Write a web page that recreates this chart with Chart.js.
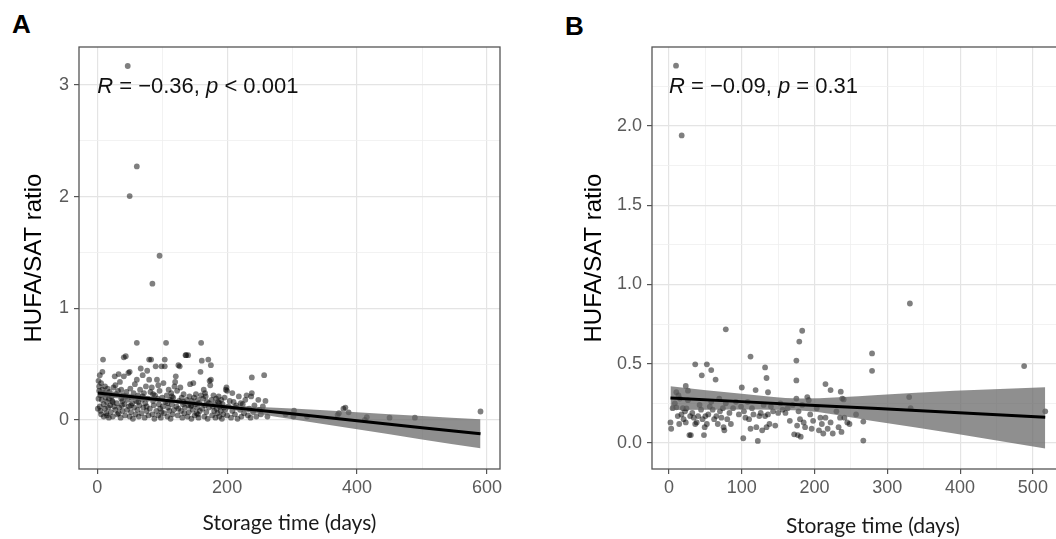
<!DOCTYPE html>
<html><head><meta charset="utf-8">
<script src="https://cdn.jsdelivr.net/npm/chart.js@4/dist/chart.umd.min.js"></script>
<style>
html,body{margin:0;padding:0;background:#fff;width:1056px;height:539px;overflow:hidden;position:relative}
.panel{position:absolute;top:0}
.tag{position:absolute;font:bold 26px "Liberation Sans",Arial,sans-serif;line-height:1;color:#000}
</style></head><body>
<div class="tag" style="left:12px;top:11px">A</div>
<div class="tag" style="left:565px;top:13px">B</div>
<div class="panel" style="left:0;width:530px;height:539px"><canvas id="ca" width="530" height="539"></canvas></div>
<div class="panel" style="left:530px;width:570px;height:539px"><canvas id="cb" width="570" height="539"></canvas></div>
<script>
// ---------- Panel A data ----------
const pointsA = [
[47,3.17],[61,2.27],[50,2.005],[96,1.47],[85,1.22],
[2,0.35],[3,0.30],[4,0.12],[5,0.08],[5,0.22],[6,0.05],[7,0.18],[8,0.43],[8,0.27],[9,0.54],[10,0.14],[10,0.03],[11,0.24],[12,0.10],[13,0.20],[14,0.06],[15,0.16],[16,0.28],[17,0.11],[18,0.02],[19,0.25],[20,0.13],[3,0.26],[6,0.33],[12,0.30],[15,0.04],[18,0.19],[1,0.10],[2,0.19],[4,0.40],
[21,0.07],[22,0.21],[23,0.17],[24,0.03],[25,0.29],[26,0.12],[27,0.39],[28,0.09],[29,0.23],[30,0.15],[31,0.05],[32,0.26],[33,0.41],[34,0.11],[35,0.34],[36,0.02],[37,0.19],[38,0.13],[39,0.08],[40,0.22],[24,0.16],[28,0.31],[33,0.06],[37,0.27],[39,0.17],
[41,0.39],[41,0.56],[42,0.14],[43,0.04],[44,0.57],[45,0.25],[46,0.09],[47,0.18],[48,0.42],[49,0.12],[50,0.03],[50,0.43],[51,0.28],[52,0.07],[53,0.20],[54,0.15],[55,0.01],[56,0.24],[57,0.11],[58,0.32],[59,0.05],[60,0.17],[61,0.36],[44,0.21],[52,0.13],
[61,0.69],[62,0.09],[63,0.22],[64,0.03],[65,0.13],[66,0.27],[67,0.46],[68,0.06],[69,0.18],[70,0.40],[71,0.11],[72,0.24],[73,0.02],[74,0.15],[75,0.30],[76,0.08],[77,0.44],[78,0.19],[79,0.04],[80,0.36],[80,0.54],[63,0.16],[70,0.21],[76,0.12],
[81,0.10],[82,0.25],[83,0.54],[84,0.29],[85,0.05],[86,0.17],[87,0.13],[88,0.01],[89,0.22],[90,0.48],[91,0.08],[92,0.36],[93,0.19],[94,0.04],[95,0.14],[96,0.26],[97,0.10],[98,0.02],[99,0.48],[100,0.20],[86,0.23],[94,0.31],[99,0.07],
[101,0.12],[102,0.33],[103,0.06],[104,0.54],[104,0.48],[105,0.16],[106,0.69],[107,0.22],[108,0.03],[109,0.11],[110,0.27],[111,0.08],[112,0.18],[113,0.01],[114,0.24],[115,0.14],[116,0.05],[117,0.20],[118,0.09],[119,0.30],[120,0.34],[121,0.39],[108,0.15],[115,0.21],
[122,0.12],[123,0.26],[124,0.04],[125,0.49],[126,0.17],[127,0.48],[128,0.29],[129,0.08],[130,0.20],[131,0.02],[132,0.14],[133,0.23],[134,0.06],[135,0.11],[136,0.58],[137,0.58],[138,0.18],[139,0.03],[140,0.13],[140,0.58],[125,0.10],[133,0.16],
[141,0.07],[142,0.21],[143,0.32],[144,0.12],[145,0.01],[146,0.17],[147,0.09],[148,0.33],[149,0.20],[150,0.04],[151,0.14],[152,0.23],[153,0.06],[154,0.11],[155,0.18],[156,0.02],[157,0.15],[158,0.08],[159,0.43],[160,0.69],[160,0.22],[145,0.13],[155,0.05],
[161,0.53],[162,0.10],[163,0.19],[164,0.27],[165,0.03],[166,0.13],[167,0.21],[168,0.07],[169,0.16],[170,0.01],[171,0.54],[172,0.11],[173,0.35],[174,0.31],[175,0.49],[175,0.36],[176,0.18],[177,0.04],[178,0.12],[179,0.22],[180,0.08],[166,0.24],[172,0.15],
[181,0.14],[182,0.02],[183,0.19],[184,0.10],[185,0.06],[186,0.16],[187,0.21],[188,0.03],[189,0.12],[190,0.08],[191,0.18],[192,0.01],[193,0.14],[194,0.05],[195,0.11],[196,0.20],[197,0.09],[198,0.27],[199,0.29],[200,0.26],[200,0.04],[188,0.15],
[202,0.12],[204,0.17],[206,0.02],[208,0.08],[210,0.16],[212,0.05],[214,0.13],[216,0.01],[218,0.21],[220,0.09],[222,0.03],[224,0.14],[226,0.06],[228,0.18],[230,0.22],[213,0.11],[221,0.15],[208,0.24],
[232,0.04],[234,0.10],[236,0.02],[238,0.24],[238,0.38],[240,0.07],[242,0.13],[245,0.03],[248,0.18],[250,0.09],[252,0.05],[257,0.40],[255,0.12],[259,0.17],[262,0.03],[237,0.21],
[290,0.05],[302,0.03],[303,0.083],[323,0.03],[370,0.045],[372,0.06],[379,0.10],[382,0.11],[387,0.068],[412,0.0],[415,0.024],[450,0.02],[489,0.02],[590,0.075]
];
const fitDaysA = [1,100,200,300,400,500,590];
const fitA     = [0.240,0.178,0.116,0.054,-0.008,-0.070,-0.125];
const fitLowA  = [0.207,0.160,0.098,0.005,-0.085,-0.175,-0.255];
const fitUpA   = [0.272,0.196,0.134,0.103,0.069,0.035,0.005];
const xMajorA = [0,200,400,600], xMinorA = [100,300,500];
const yMajorA = [0,1,2,3], yMinorA = [0.5,1.5,2.5];
const noteA = ['R',' = \u22120.36, ','p',' < 0.001'];

// ---------- Panel B data ----------
const pointsB = [
[9.6,2.38],[17.4,1.94],
[78,0.717],[183,0.708],[179,0.64],[331,0.88],[488,0.485],[279,0.565],[279,0.455],[517,0.2],[330,0.29],[332,0.22],[267,0.015],[267,0.135],[257,0.18],[238,0.28],[236,0.324],[222,0.334],[215,0.372],[112,0.545],[175,0.52],[175,0.395],[36,0.496],[52,0.496],[45,0.427],[58,0.46],[64,0.40],[132,0.477],[134,0.41],[100,0.35],[119,0.334],[136,0.32],[23,0.36],[26,0.33],[10,0.32],[13,0.30],
[2,0.13],[3,0.09],[5,0.22],[8,0.25],[10,0.225],[12,0.17],[14,0.12],[15,0.28],[17,0.18],[19,0.22],[20,0.15],[22,0.20],[23,0.13],[24,0.219],[26,0.27],[28,0.05],[29,0.17],[30,0.05],[32,0.19],[34,0.16],[36,0.12],[38,0.13],[40,0.17],[42,0.24],[44,0.21],[46,0.15],[48,0.05],[49,0.10],[50,0.17],[52,0.12],[54,0.18],[56,0.23],[58,0.26],[60,0.21],[62,0.15],[65,0.17],[67,0.12],[69,0.28],[70,0.20],[72,0.16],[74,0.22],[75,0.10],[76,0.08],[78,0.25],[80,0.15],[83,0.19],[85,0.12],[88,0.22],[92,0.26],[96,0.18],[99,0.23],
[102,0.03],[103,0.20],[105,0.16],[108,0.26],[110,0.15],[112,0.09],[114,0.22],[116,0.18],[120,0.10],[122,0.013],[124,0.17],[126,0.19],[128,0.08],[130,0.24],[132,0.17],[134,0.10],[136,0.18],[138,0.12],[140,0.23],[143,0.20],[146,0.11],[150,0.19],[153,0.25],[156,0.21],[160,0.19],[163,0.22],[166,0.14],[170,0.24],[172,0.055],[175,0.28],[176,0.11],[177,0.05],[178,0.20],[180,0.15],[181,0.04],[183,0.24],[185,0.13],[187,0.10],[190,0.29],[192,0.27],[194,0.18],[196,0.09],[198,0.14],
[203,0.22],[206,0.08],[208,0.16],[210,0.12],[212,0.06],[215,0.16],[218,0.09],[222,0.13],[225,0.06],[230,0.20],[233,0.10],[235,0.16],[237,0.07],[240,0.275],[241,0.16],[245,0.13],[248,0.12]
];
const fitDaysB = [2,100,180,287,392,517];
const fitB     = [0.284,0.261,0.242,0.217,0.192,0.163];
const fitLowB  = [0.208,0.212,0.205,0.134,0.060,-0.034];
const fitUpB   = [0.358,0.310,0.280,0.303,0.330,0.352];
const xMajorB = [0,100,200,300,400,500], xMinorB = [50,150,250,350,450,550];
const yMajorB = [0,0.5,1,1.5,2], yMinorB = [0.25,0.75,1.25,1.75,2.25];
const noteB = ['R',' = \u22120.09, ','p',' = 0.31'];

// ---------- drawing ----------
const SANS = '"Liberation Sans", Arial, sans-serif';
const isIn = (arr, v) => arr.some(a => Math.abs(a - v) < 1e-9);

const framePlugin = {
  id: 'frame',
  afterDatasetsDraw(chart, args, opts) {
    const {ctx, chartArea: a} = chart;
    ctx.save();
    ctx.strokeStyle = '#555';
    ctx.lineWidth = 1.3;
    ctx.strokeRect(a.left, a.top, a.right - a.left, a.bottom - a.top);
    const x0 = chart.scales.x.getPixelForValue(opts.at[0]);
    const y0 = chart.scales.y.getPixelForValue(opts.at[1]);
    ctx.fillStyle = '#111';
    ctx.textBaseline = 'alphabetic';
    let cx = x0;
    opts.parts.forEach((t, i) => {
      ctx.font = (i % 2 === 0 ? 'italic ' : '') + '22px ' + SANS;
      ctx.fillText(t, cx, y0);
      cx += ctx.measureText(t).width;
    });
    ctx.restore();
  }
};

function panel(id, o) {
  const xt = o.xMajor.concat(o.xMinor), yt = o.yMajor.concat(o.yMinor);
  const gridOpts = (major) => ({
    color: c => c.tick && isIn(major, c.tick.value) ? '#e4e4e4' : '#efefef',
    lineWidth: c => c.tick && isIn(major, c.tick.value) ? 1.2 : 0.8,
    tickColor: c => c.tick && isIn(major, c.tick.value) ? '#555' : 'rgba(0,0,0,0)',
    tickLength: 5, tickWidth: 1.2, drawTicks: true
  });
  const toXY = (xs, ys) => xs.map((x, i) => ({x, y: ys[i]}));
  new Chart(document.getElementById(id), {
    type: 'scatter',
    data: { datasets: [
      { type: 'scatter', data: o.points.map(p => ({x: p[0], y: p[1]})), pointRadius: 2.9, pointBackgroundColor: 'rgba(0,0,0,0.5)', pointBorderWidth: 0, order: 3 },
      { type: 'line', data: toXY(o.fitX, o.fitUp), borderColor: 'rgba(0,0,0,0)', borderWidth: 0, pointRadius: 0, fill: '+1', backgroundColor: 'rgba(100,100,100,0.72)', cubicInterpolationMode: 'monotone', order: 2 },
      { type: 'line', data: toXY(o.fitX, o.fitLow), borderColor: 'rgba(0,0,0,0)', borderWidth: 0, pointRadius: 0, fill: false, cubicInterpolationMode: 'monotone', order: 2 },
      { type: 'line', data: toXY(o.fitX, o.fit), borderColor: '#000', borderWidth: 3, pointRadius: 0, fill: false, order: 1 }
    ]},
    options: {
      responsive: false, animation: false, events: [],
      layout: { padding: o.pad },
      plugins: { legend: {display: false}, tooltip: {enabled: false}, frame: { at: o.noteAt, parts: o.note } },
      scales: {
        x: {
          type: 'linear', min: o.xRange[0], max: o.xRange[1],
          afterBuildTicks: s => { s.ticks = xt.map(v => ({value: v})); },
          afterFit: s => { s.height = o.xH; },
          ticks: { autoSkip: false, maxRotation: 0, padding: 3, color: '#5a5a5a', font: {family: SANS, size: 18},
                   callback: v => isIn(o.xMajor, v) ? String(v) : '' },
          grid: gridOpts(o.xMajor), border: {display: false},
          title: { display: true, text: 'Storage time (days)', color: '#1a1a1a', font: {family: 'Lato, "Open Sans", sans-serif', size: 21}, padding: {top: 0, bottom: o.xTitlePad} }
        },
        y: {
          type: 'linear', min: o.yRange[0], max: o.yRange[1],
          afterBuildTicks: s => { s.ticks = yt.map(v => ({value: v})); },
          afterFit: s => { s.width = o.yW; },
          ticks: { autoSkip: false, padding: 5, color: '#5a5a5a', font: {family: SANS, size: 18},
                   callback: v => isIn(o.yMajor, v) ? v.toFixed(o.yDec) : '' },
          grid: gridOpts(o.yMajor), border: {display: false},
          title: { display: true, text: 'HUFA/SAT ratio', color: '#000', font: {family: SANS, size: 24}, padding: {top: o.yTitlePad, bottom: 0} }
        }
      }
    },
    plugins: [framePlugin]
  });
}

panel('ca', { points: pointsA, fitX: fitDaysA, fit: fitA, fitLow: fitLowA, fitUp: fitUpA,
  xMajor: xMajorA, xMinor: xMinorA, yMajor: yMajorA, yMinor: yMinorA, yDec: 0,
  xRange: [-28, 620], yRange: [-0.44, 3.34], pad: {left: 0, top: 47, right: 30, bottom: 0},
  xH: 70, yW: 79, xTitlePad: 3, yTitlePad: 20, note: noteA, noteAt: [0, 2.931] });

panel('cb', { points: pointsB, fitX: fitDaysB, fit: fitB, fitLow: fitLowB, fitUp: fitUpB,
  xMajor: xMajorB, xMinor: xMinorB, yMajor: yMajorB, yMinor: yMinorB, yDec: 1,
  xRange: [-23.4, 584], yRange: [-0.164, 2.498], pad: {left: 0, top: 47, right: 6, bottom: 0},
  xH: 70, yW: 122, xTitlePad: 0, yTitlePad: 50, note: noteB, noteAt: [0, 2.21] });
</script>
</body></html>
